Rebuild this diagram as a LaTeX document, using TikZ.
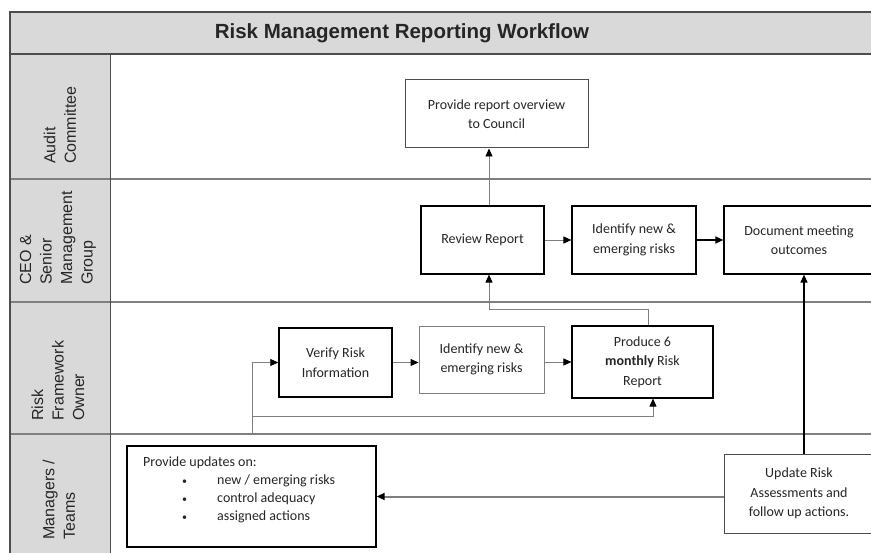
\documentclass[tikz,border=0pt]{standalone}
\usepackage{fontspec}
\setmainfont{Carlito}
\newfontfamily\arialf{Liberation Sans}
\usetikzlibrary{arrows.meta,calc}
\definecolor{lanegray}{HTML}{D9D9D9}
\definecolor{linegray}{HTML}{7F7F7F}
\definecolor{framegray}{HTML}{4D4D4D}
\definecolor{txt}{HTML}{262626}
\begin{document}
\begin{tikzpicture}[x=1pt,y=-1pt,
  box/.style={draw=black,line width=1.2pt,fill=white,inner sep=0pt,align=center,
    font=\fontsize{14}{19.5}\selectfont,text=txt},
  lbox/.style={box,draw=linegray,line width=0.9pt},
  lanelbl/.style={rotate=90,anchor=west,align=left,inner sep=0pt,
    font=\arialf\fontsize{16}{20.5}\selectfont,text=txt},
  arr/.style={-{Triangle[length=8pt,width=7pt,color=black]},line width=0.9pt,draw=black!85},
  garr/.style={arr,draw=linegray},
  lanesep/.style={draw=linegray,line width=1.3pt},
  frameline/.style={draw=framegray},
]
\useasboundingbox (0,0) rectangle (871,553);
\fill[white] (0,0) rectangle (871,553);
% title bar
\fill[lanegray] (10,12) rectangle (880,54);
\node[font=\arialf\bfseries\fontsize{20.5}{24}\selectfont,text=txt] (title) at (402,33) {Risk Management Reporting Workflow};
% label column
\fill[lanegray] (10,54) rectangle (110,560);
% lane separators
\draw[lanesep] (10,179) -- (880,179);
\draw[lanesep] (10,302) -- (880,302);
\draw[lanesep] (10,434) -- (880,434);
% frame lines
\draw[frameline,line width=2.5pt] (8.75,12) -- (880,12);
\draw[frameline,line width=1.8pt] (10,54) -- (880,54);
\draw[frameline,line width=1.2pt] (10,12) -- (10,560);
\draw[frameline,line width=1pt] (110,54) -- (110,560);
% lane labels
\node[lanelbl] (l1) at (60,164) {Audit\\Committee};
\node[lanelbl] (l2) at (58,285) {CEO \&\\Senior\\Management\\Group};
\node[lanelbl] (l3) at (58,421) {Risk\\Framework\\Owner};
\node[lanelbl] (l4) at (59,540) {Managers /\\Teams};
% boxes
\node[box,draw=framegray,line width=1pt,minimum width=183pt,minimum height=68pt] (audit) at (496.5,114) {Provide report overview\\to Council};
\node[box,minimum width=123pt,minimum height=68pt] (review) at (482.5,240) {Review Report};
\node[box,minimum width=124pt,minimum height=68pt] (idc) at (634,240) {Identify new \&\\emerging risks};
\node[box,minimum width=150pt,minimum height=68pt] (doc) at (799,240) {Document meeting\\outcomes};
\node[box,line width=1.5pt,minimum width=113pt,minimum height=69pt] (verify) at (335.5,362.5) {Verify Risk\\Information};
\node[lbox,minimum width=125pt,minimum height=67pt] (idr) at (481.5,359.5) {Identify new \&\\emerging risks};
\node[box,minimum width=141pt,minimum height=72pt] (produce) at (642.5,362) {Produce 6\\\textbf{monthly} Risk\\Report};
\node[box,line width=1.4pt,minimum width=249pt,minimum height=101pt] (upd) at (251.5,496.5) {};
\node[anchor=north west,inner sep=0pt,align=left,font=\fontsize{14}{18}\selectfont,text=txt] (updtxt) at (143,457)
  {Provide updates on:\\
   \hspace*{39pt}\makebox[35pt][l]{\fontsize{10}{10}\selectfont\textbullet}new / emerging risks\\
   \hspace*{39pt}\makebox[35pt][l]{\fontsize{10}{10}\selectfont\textbullet}control adequacy\\
   \hspace*{39pt}\makebox[35pt][l]{\fontsize{10}{10}\selectfont\textbullet}assigned actions};
\node[lbox,draw=framegray,minimum width=150pt,minimum height=79pt] (ura) at (799,493.5) {Update Risk\\Assessments and\\follow up actions.};
% connectors
\coordinate (rtop) at ([xshift=6.5pt]review.north);
\draw[garr] (rtop) -- (rtop |- audit.south);
\draw[garr] (review.east) -- (idc.west);
\draw[arr,draw=black,line width=1.4pt] (idc.east) -- (doc.west);
\coordinate (ptop) at ([xshift=5.5pt]produce.north);
\coordinate (rbot) at ([xshift=6.5pt]review.south);
\draw[garr] (ptop) -- ++(0,-16) -| (rbot);
\draw[garr] (verify.east) -- (verify.east -| idr.west);
\draw[garr] (idr.east |- produce.west) -- (produce.west);
\coordinate (lb) at (252,434);
\draw[garr] (lb) |- (verify.west);
\coordinate (lp) at (252,416);
\coordinate (pbot) at ([xshift=10.5pt]produce.south);
\draw[garr] (lp) -| (pbot);
\draw[arr,draw=linegray,line width=2pt] (ura.west |- upd.east) -- (upd.east);
\coordinate (utop) at ([xshift=5pt]ura.north);
\draw[arr,draw=black,line width=1.4pt] (utop) -- (utop |- doc.south);
\end{tikzpicture}
\end{document}
